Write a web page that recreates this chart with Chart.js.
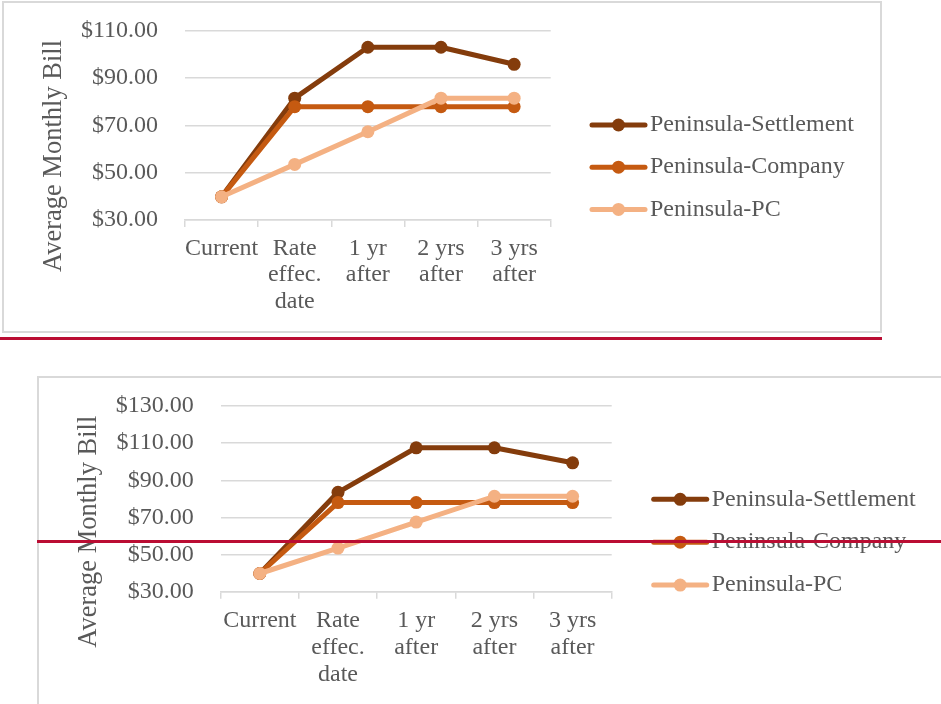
<!DOCTYPE html>
<html>
<head>
<meta charset="utf-8">
<script src="https://cdn.jsdelivr.net/npm/chart.js@4.4.1/dist/chart.umd.min.js"></script>
<style>
  html, body { margin: 0; padding: 0; background: #ffffff; }
  body { width: 941px; height: 704px; position: relative; overflow: hidden; }
  .frame { position: absolute; box-sizing: border-box; border: 2px solid #d9d9d9; background: #fff; }
  .rule { position: absolute; background: #ba0d33; z-index: 5; }
  canvas { position: absolute; left: 0; z-index: 2; }
</style>
</head>
<body>
<div class="frame" style="left:2px; top:1px; width:880px; height:332px;"></div>
<div class="rule" style="left:0; top:337px; width:882px; height:2.5px;"></div>
<div class="frame" style="left:37px; top:376px; width:940px; height:360px;"></div>
<canvas id="chartA" width="941" height="336" style="top:0;"></canvas>
<canvas id="chartB" width="941" height="364" style="top:340px;"></canvas>
<div class="rule" style="left:37px; top:539.5px; width:904px; height:3.5px;"></div>
<script>
// Categories along the x axis (multi-line labels)
const categories = [['Current'], ['Rate', 'effec.', 'date'], ['1 yr', 'after'], ['2 yrs', 'after'], ['3 yrs', 'after']];
const seriesNames = ['Peninsula-Settlement', 'Peninsula-Company', 'Peninsula-PC'];
const seriesColors = ['#843c0c', '#c55a11', '#f4b183'];
const axisTitle = 'Average Monthly Bill';

// Upper chart values
const settlementA = [39.8, 81.5, 103.0, 103.0, 95.8];
const companyA    = [39.8, 77.9, 77.9, 77.9, 77.9];
const pcA         = [39.8, 53.5, 67.3, 81.5, 81.5];
const yRangeA     = [30, 110];

// Lower chart values
const settlementB = [39.8, 83.5, 107.5, 107.5, 99.4];
const companyB    = [39.8, 78.0, 78.0, 78.0, 78.0];
const pcB         = [39.8, 53.5, 67.5, 81.4, 81.4];
const yRangeB     = [30, 130];
const yStep       = 20;

const SERIF = "'Liberation Serif', 'Times New Roman', serif";
const TEXT = '#595959';
const GRID = '#d9d9d9';

// Rotated axis title and line+marker legend
const sideText = {
  id: 'sideText',
  afterDraw(chart, args, o) {
    const ctx = chart.ctx;
    ctx.save();
    ctx.fillStyle = TEXT;
    ctx.font = '26.5px ' + SERIF;
    ctx.translate(o.titleX, o.titleY);
    ctx.rotate(-Math.PI / 2);
    ctx.textAlign = 'center';
    ctx.textBaseline = 'alphabetic';
    ctx.fillText(axisTitle, 0, 0);
    ctx.restore();

    chart.data.datasets.forEach((ds, i) => {
      const y = o.legendY + i * o.legendGap;
      const x = o.legendX;
      ctx.save();
      ctx.strokeStyle = ds.borderColor;
      ctx.lineWidth = 5;
      ctx.lineCap = 'round';
      ctx.beginPath();
      ctx.moveTo(x + 2, y);
      ctx.lineTo(x + 55, y);
      ctx.stroke();
      ctx.fillStyle = ds.borderColor;
      ctx.beginPath();
      ctx.arc(x + 28.5, y, 6.5, 0, Math.PI * 2);
      ctx.fill();
      ctx.fillStyle = TEXT;
      ctx.font = '24px ' + SERIF;
      ctx.textAlign = 'left';
      ctx.textBaseline = 'middle';
      ctx.fillText(ds.label, x + 60, y);
      ctx.restore();
    });
  }
};

function makeDatasets(values) {
  return values.map((v, i) => ({
    label: seriesNames[i],
    data: v,
    borderColor: seriesColors[i],
    backgroundColor: seriesColors[i],
    borderWidth: 5,
    pointRadius: 6.5,
    pointHoverRadius: 6.5,
    pointBorderWidth: 0,
    borderCapStyle: 'round',
    borderJoinStyle: 'round',
    tension: 0,
    order: 3 - i
  }));
}

function build(id, values, range, box, side) {
  const canvas = document.getElementById(id);
  return new Chart(canvas, {
    type: 'line',
    data: { labels: categories, datasets: makeDatasets(values) },
    plugins: [sideText],
    options: {
      responsive: false,
      animation: false,
      devicePixelRatio: 1,
      layout: { padding: { left: 0, top: box.top, right: canvas.width - box.right, bottom: 0 } },
      plugins: {
        legend: { display: false },
        tooltip: { enabled: false },
        sideText: side
      },
      scales: {
        x: {
          offset: true,
          grid: { display: true, offset: true, drawOnChartArea: false, drawTicks: true, tickLength: 7, color: GRID, lineWidth: 1.5 },
          border: { display: true, color: GRID, width: 1.5 },
          ticks: {
            color: TEXT, padding: box.xPad, maxRotation: 0, autoSkip: false,
            font: { family: SERIF, size: 24, lineHeight: 1.11 }
          },
          afterFit(scale) { scale.height = canvas.height - box.bottom; }
        },
        y: {
          min: range[0], max: range[1],
          grid: { color: GRID, lineWidth: 1.5, drawTicks: false },
          border: { display: false },
          ticks: {
            stepSize: yStep, color: TEXT, padding: 27,
            font: { family: SERIF, size: 24 },
            callback: (v) => '$' + Number(v).toFixed(2)
          },
          afterFit(scale) {
            scale.width = box.left;
            scale.paddingTop = 0;
            scale.paddingBottom = 0;
          }
        }
      }
    }
  });
}

build('chartA', [settlementA, companyA, pcA], yRangeA,
  { left: 185, right: 550.7, top: 30.7, bottom: 220, xPad: 8 },
  { titleX: 60.7, titleY: 156, legendX: 590, legendY: 125, legendGap: 42.2 });

build('chartB', [settlementB, companyB, pcB], yRangeB,
  { left: 220.7, right: 611.7, top: 66, bottom: 251.7, xPad: 9 },
  { titleX: 96, titleY: 191.7, legendX: 651.7, legendY: 159.3, legendGap: 42.9 });
</script>
</body>
</html>
